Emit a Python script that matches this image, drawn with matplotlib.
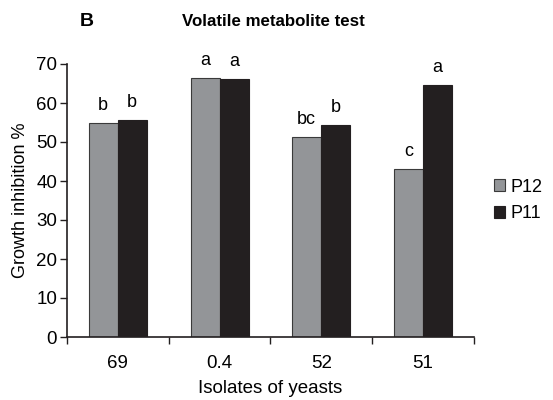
import numpy as np
import matplotlib
matplotlib.use('Agg')
import matplotlib.pyplot as plt

plt.rcParams['font.family'] = ['Liberation Sans', 'DejaVu Sans']

isolates = ['69', '0.4', '52', '51']
p12 = [55.0, 66.4, 51.2, 43.2]
p11 = [55.6, 66.2, 54.3, 64.5]
p12_letters = ['b', 'a', 'bc', 'c']
p11_letters = ['b', 'a', 'b', 'a']

fig = plt.figure(figsize=(5.53, 4.0), dpi=100)
ax = fig.add_axes([0.121, 0.1575, 0.736, 0.6825])

x = np.arange(len(isolates)) + 0.5
w = 0.285
ax.bar(x - w/2, p12, w, color='#939598', edgecolor='#3a3a3a', linewidth=0.8, label='P12')
ax.bar(x + w/2, p11, w, color='#231f20', edgecolor='#231f20', linewidth=0.8, label='P11')

for xi, v, t in zip(x - w/2, p12, p12_letters):
    ax.text(xi, v + 2.3, t, ha='center', va='bottom', fontsize=13)
for xi, v, t in zip(x + w/2, p11, p11_letters):
    ax.text(xi, v + 2.3, t, ha='center', va='bottom', fontsize=13)

ax.set_xlim(0, 4)
ax.set_ylim(0, 70)
ax.set_yticks(range(0, 71, 10))
ax.set_xticks(range(0, 5))
ax.set_xticklabels([])
ax.set_xticks(x, minor=True)
ax.set_xticklabels(isolates, minor=True, fontsize=13.5)
ax.tick_params(axis='x', which='minor', length=0, pad=13)
ax.tick_params(axis='x', which='major', length=5, direction='out', width=1, color='#231f20')
ax.tick_params(axis='y', length=5, direction='out', width=1, labelsize=13.5, color='#231f20', pad=2)
for s in ['top', 'right']:
    ax.spines[s].set_visible(False)
for s in ['left', 'bottom']:
    ax.spines[s].set_linewidth(1.2)
    ax.spines[s].set_color('#231f20')

ax.set_ylabel('Growth inhibition %', fontsize=13, labelpad=5)
ax.set_xlabel('Isolates of yeasts', fontsize=13.5, labelpad=6)

fig.text(0.494, 0.945, 'Volatile metabolite test', ha='center', va='center', fontsize=12.2, fontweight='bold')
fig.text(0.157, 0.945, 'B', ha='center', va='center', fontsize=14, fontweight='bold')

ax.legend(loc='center left', bbox_to_anchor=(1.01, 0.5), frameon=False, fontsize=13,
          handlelength=0.6, handleheight=0.6, handletextpad=0.3, labelspacing=0.55)

plt.savefig('out.png', dpi=100)
plt.close()
